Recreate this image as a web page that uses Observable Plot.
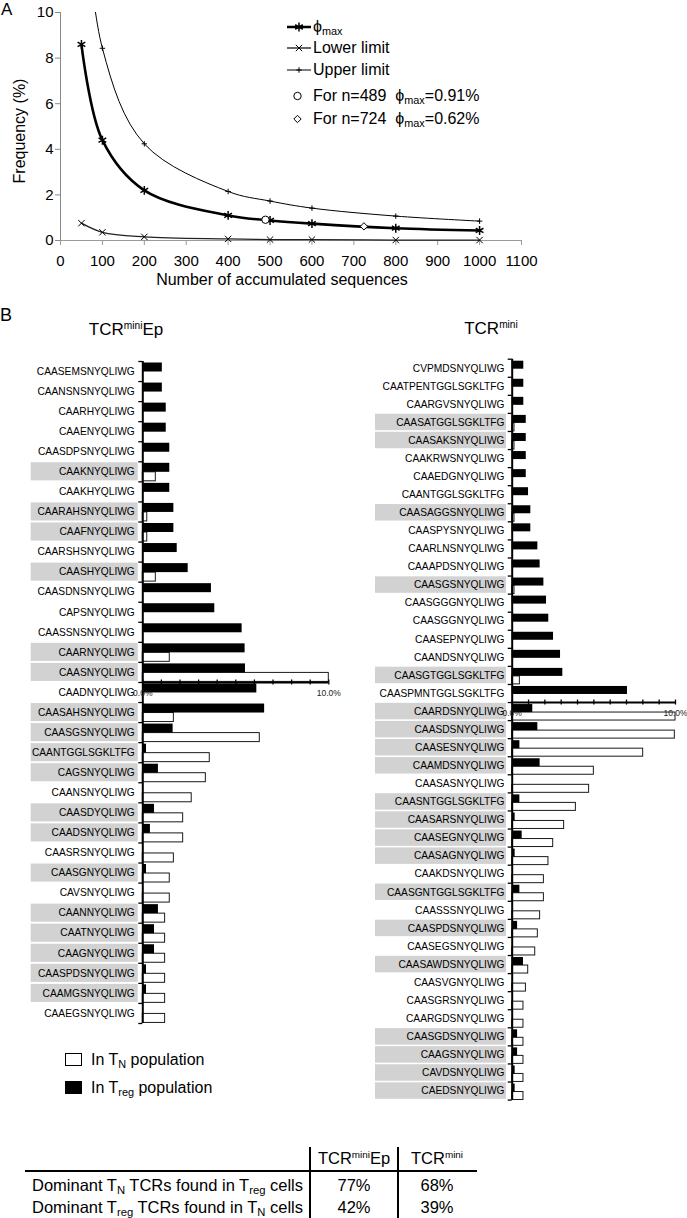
<!DOCTYPE html>
<html><head><meta charset="utf-8">
<script src="https://cdn.jsdelivr.net/npm/d3@7"></script>
<script src="https://cdn.jsdelivr.net/npm/@observablehq/plot@0.6"></script>
<style>
html,body{margin:0;padding:0;background:#fff}
#root{position:relative;width:687px;height:1218px;overflow:hidden;font-family:"Liberation Sans",Arial,Helvetica,sans-serif;color:#000}
.abs{position:absolute;white-space:nowrap}
.sub{font-size:0.68em;position:relative;top:0.28em;line-height:0}
.sup{font-size:0.6em;position:relative;top:-0.6em;line-height:0}
</style></head>
<body><div id="root"></div>
<script>
// ---------------- Panel A data ----------------
const sampleSizes = [50, 100, 200, 400, 500, 600, 800, 1000];
const phiMax      = [8.6, 4.4, 2.2, 1.1, 0.88, 0.74, 0.54, 0.44];
const lowerLimit  = [0.76, 0.36, 0.16, 0.07, 0.04, 0.04, 0.02, 0.02];
const upperLimit  = [16.9, 8.43, 4.24, 2.15, 1.73, 1.42, 1.07, 0.85];
const markedN      = [489, 724];
const markedPhi    = [0.91, 0.62];
const markedSymbol = ["circle", "diamond2"];
const xTicksA = [0, 100, 200, 300, 400, 500, 600, 700, 800, 900, 1000, 1100];
const yTicksA = [0, 2, 4, 6, 8, 10];
const legendLabelsA = [
  "ϕ<span class=sub>max</span>",
  "Lower limit",
  "Upper limit",
  "For n=489&nbsp;&nbsp;ϕ<span class=sub>max</span>=0.91%",
  "For n=724&nbsp;&nbsp;ϕ<span class=sub>max</span>=0.62%"
];

// ---------------- Panel B data (TCRminiEp) ----------------
const epNames = ["CAASEMSNYQLIWG","CAANSNSNYQLIWG","CAARHYQLIWG","CAAENYQLIWG","CAASDPSNYQLIWG",
  "CAAKNYQLIWG","CAAKHYQLIWG","CAARAHSNYQLIWG","CAAFNYQLIWG","CAARSHSNYQLIWG","CAASHYQLIWG",
  "CAASDNSNYQLIWG","CAPSNYQLIWG","CAASSNSNYQLIWG","CAARNYQLIWG","CAASNYQLIWG","CAADNYQLIWG",
  "CAASAHSNYQLIWG","CAASGSNYQLIWG","CAANTGGLSGKLTFG","CAGSNYQLIWG","CAANSNYQLIWG","CAASDYQLIWG",
  "CAADSNYQLIWG","CAASRSNYQLIWG","CAASGNYQLIWG","CAVSNYQLIWG","CAANNYQLIWG","CAATNYQLIWG",
  "CAAGNYQLIWG","CAASPDSNYQLIWG","CAAMGSNYQLIWG","CAAEGSNYQLIWG"];
const epTreg = [1.05,1.05,1.26,1.26,1.45,1.45,1.45,1.67,1.67,1.85,2.44,3.69,3.87,5.34,5.5,5.52,6.13,
  6.55,1.63,0.2,0.84,0,0.63,0.41,0,0.2,0,0.84,0.63,0.63,0.2,0.2,0];
const epTN = [0,0,0,0,0,0.7,0,0.24,0.24,0,0.7,0,0,0,1.45,11,0,1.67,6.29,3.6,3.39,2.63,2.17,2.17,1.67,
  1.45,1.45,1.2,1.2,1.2,1.2,1.2,1.2];
const epShaded = [0,0,0,0,0,1,0,1,1,0,1,0,0,0,1,1,0,1,1,1,1,0,1,1,0,1,0,1,1,1,1,1,0];
const epAxisBefore = "CAADNYQLIWG";

// ---------------- Panel B data (TCRmini) ----------------
const miniNames = ["CVPMDSNYQLIWG","CAATPENTGGLSGKLTFG","CAARGVSNYQLIWG","CAASATGGLSGKLTFG",
  "CAASAKSNYQLIWG","CAAKRWSNYQLIWG","CAAEDGNYQLIWG","CAANTGGLSGKLTFG","CAASAGGSNYQLIWG",
  "CAASPYSNYQLIWG","CAARLNSNYQLIWG","CAAAPDSNYQLIWG","CAASGSNYQLIWG","CAASGGGNYQLIWG",
  "CAASGGNYQLIWG","CAASEPNYQLIWG","CAANDSNYQLIWG","CAASGTGGLSGKLTFG","CAASPMNTGGLSGKLTFG",
  "CAARDSNYQLIWG","CAASDSNYQLIWG","CAASESNYQLIWG","CAAMDSNYQLIWG","CAASASNYQLIWG",
  "CAASNTGGLSGKLTFG","CAASARSNYQLIWG","CAASEGNYQLIWG","CAASAGNYQLIWG","CAAKDSNYQLIWG",
  "CAASGNTGGLSGKLTFG","CAASSSNYQLIWG","CAASPDSNYQLIWG","CAASEGSNYQLIWG","CAASAWDSNYQLIWG",
  "CAASVGNYQLIWG","CAASGRSNYQLIWG","CAARGDSNYQLIWG","CAASGDSNYQLIWG","CAAGSNYQLIWG",
  "CAVDSNYQLIWG","CAEDSNYQLIWG"];
const miniTreg = [0.71,0.71,0.71,0.86,0.86,0.86,0.86,1.0,1.14,1.14,1.57,1.71,1.94,2.1,2.24,2.53,2.96,
  3.1,7.06,1.26,1.57,0.47,1.71,0,0.47,0.18,0.61,0.18,0,0.47,0,0.33,0,0.69,0,0,0,0.33,0.33,0.18,0.18];
const miniTN = [0,0,0,0.14,0.14,0,0,0,0.14,0,0,0,0.14,0,0,0,0,0.47,0,11,9.96,8.02,5.0,4.71,3.9,3.18,
  2.51,2.22,1.94,1.94,1.71,1.57,1.41,0.98,0.84,0.69,0.69,0.69,0.69,0.69,0.69];
const miniShaded = [0,0,0,1,1,0,0,0,1,0,0,0,1,0,0,0,0,1,0,1,1,1,1,0,1,1,1,1,0,1,0,1,0,1,0,0,0,1,1,1,1];
const miniAxisBefore = "CAARDSNYQLIWG";

const xMinorTicksB = [0,1,2,3,4,5,6,7,8,9,10];
const xMajorTicksB = [0, 10];
const legendLabelsB = ["In T<span class=sub>N</span> population", "In T<span class=sub>reg</span> population"];
const legendFillsB = ["white", "black"];

// ---------------- Table data ----------------
const tableCols = ["TCR<span class=sup>mini</span>Ep", "TCR<span class=sup>mini</span>"];
const tableRows = ["Dominant T<span class=sub>N</span> TCRs found in T<span class=sub>reg</span> cells",
                   "Dominant T<span class=sub>reg</span> TCRs found in T<span class=sub>N</span> cells"];
const tableValues = [["77%", "68%"], ["42%", "39%"]];

// ---------------- helpers ----------------
const root = document.getElementById("root");
const FONT = '"Liberation Sans", Arial, sans-serif';
function put(node, left, top) {
  const d = document.createElement("div");
  d.className = "abs";
  d.style.left = left + "px"; d.style.top = top + "px";
  d.appendChild(node);
  root.appendChild(d);
  return d;
}
function html(str, css) {
  const d = document.createElement("div");
  d.className = "abs";
  d.innerHTML = str;
  Object.assign(d.style, css);
  root.appendChild(d);
  return d;
}
const plotStyle = {background: "transparent", overflow: "visible", fontFamily: FONT, fontSize: "15px", color: "black"};

// ---------------- Panel A ----------------
const rowsA = sampleSizes.map((n, i) => ({n, phi: phiMax[i], lo: lowerLimit[i], hi: upperLimit[i]}));
const markedA = markedN.map((n, i) => ({n, phi: markedPhi[i], symbol: markedSymbol[i]}));
const plotA = Plot.plot({
  width: 687, height: 300,
  marginLeft: 60, marginRight: 166, marginTop: 12, marginBottom: 60,
  style: plotStyle,
  x: {domain: [0, 1100]},
  y: {domain: [0, 10]},
  marks: [
    Plot.ruleY([0], {stroke: "#9a9a9a", strokeWidth: 1}),
    Plot.ruleX([0], {stroke: "#8a8a8a", strokeWidth: 1}),
    Plot.axisX({ticks: xTicksA, tickSize: 5, tickPadding: 10, stroke: "#9a9a9a", fill: "black",
      fontSize: 15, tickFormat: d => String(d), label: null}),
    Plot.axisY({ticks: yTicksA, tickSize: 5, tickPadding: 2, stroke: "#8a8a8a", fill: "black",
      fontSize: 15, tickFormat: d => String(d), label: null}),
    Plot.line(rowsA, {x: "n", y: "hi", curve: "catmull-rom", stroke: "black", strokeWidth: 1, clip: true}),
    Plot.line(rowsA, {x: "n", y: "lo", curve: "catmull-rom", stroke: "#222", strokeWidth: 1.3}),
    Plot.line(rowsA, {x: "n", y: "phi", curve: "catmull-rom", stroke: "black", strokeWidth: 2.6}),
    Plot.dot(rowsA, {x: "n", y: "hi", symbol: "plus", r: 1.9, stroke: "black", strokeWidth: 1, clip: true}),
    Plot.dot(rowsA, {x: "n", y: "lo", symbol: "times", r: 3, stroke: "black", strokeWidth: 1}),
    Plot.dot(rowsA, {x: "n", y: "phi", symbol: "asterisk", r: 4.2, stroke: "black", strokeWidth: 1.5}),
    ...markedA.map(d => Plot.dot([d], {x: "n", y: "phi", symbol: d.symbol, r: d.symbol === "circle" ? 3.7 : 3.3,
      fill: "white", stroke: "black", strokeWidth: 1}))
  ]
});
put(plotA, 0, 0);

html("A", {left: "1px", top: "1px", fontSize: "17px", lineHeight: "1"});
html("Frequency (%)", {left: "-80px", top: "122px", width: "200px", textAlign: "center", fontSize: "16px",
  lineHeight: "18px", transform: "rotate(-90deg)", transformOrigin: "100px 9px"});
html("Number of accumulated sequences", {left: "132px", top: "272px", width: "300px", textAlign: "center",
  fontSize: "16px", lineHeight: "1"});

// legend A
const legendRowsY = [27, 48, 70, 96, 119];
const legendSym = [
  {line: 2.5, sym: d3.symbolAsterisk, r: 4.2, sw: 1.5, fill: "none", cx: 13},
  {line: 1.2, sym: d3.symbolTimes, r: 3, sw: 1, fill: "none", cx: 13},
  {line: 1.0, sym: d3.symbolPlus, r: 1.9, sw: 1, fill: "none", cx: 13},
  {line: 0, sym: d3.symbolCircle, r: 3.7, sw: 1, fill: "white", cx: 11.5},
  {line: 0, sym: d3.symbolDiamond2, r: 3.3, sw: 1, fill: "white", cx: 11.5}
];
legendLabelsA.forEach((lab, i) => {
  const s = legendSym[i];
  const svg = d3.create("svg").attr("width", 26).attr("height", 16).style("position", "absolute")
    .style("left", "0px").style("top", "0px").style("overflow", "visible");
  if (s.line) svg.append("line").attr("x1", 1).attr("x2", 25).attr("y1", 8).attr("y2", 8)
    .attr("stroke", "black").attr("stroke-width", s.line);
  svg.append("path").attr("transform", `translate(${s.cx},8)`)
    .attr("d", d3.symbol(s.sym, Math.PI * s.r * s.r)())
    .attr("fill", s.fill).attr("stroke", "black").attr("stroke-width", s.sw);
  const row = html("", {left: "286px", top: (legendRowsY[i] - 8) + "px", width: "220px", height: "16px"});
  row.appendChild(svg.node());
  const t = document.createElement("span");
  t.innerHTML = lab;
  Object.assign(t.style, {position: "absolute", left: "27px", top: "0px", fontSize: "16px", lineHeight: "16px"});
  row.appendChild(t);
});

// ---------------- Panel B ----------------
function makeBars(c) {
  const N = c.names.length;
  const rows = c.names.map((name, i) => ({i, name, treg: c.treg[i], tn: c.tn[i], shaded: c.shaded[i]}));
  const bw = (c.frameBottom - c.frameTop) / N;
  const axisIdx = c.names.indexOf(c.axisBefore);
  const H = c.frameBottom - c.top + 12;
  const fl = c.frameLeft - c.left, fr = c.frameRight - c.left;
  const plot = Plot.plot({
    width: c.width, height: H,
    marginLeft: fl, marginRight: c.width - fr, marginTop: c.frameTop - c.top, marginBottom: 12,
    style: plotStyle,
    x: {domain: [0, 10], clamp: true, axis: null},
    y: {domain: [0, N], reverse: true},
    marks: [
      Plot.rect(rows.filter(d => d.shaded), {y1: "i", y2: d => d.i + 1, fill: "#d2d2d2",
        insetTop: c.boxInset, insetBottom: c.boxInset,
        insetLeft: c.boxLeft - c.frameLeft, insetRight: c.frameRight - c.boxRight}),
      Plot.axisY({ticks: d3.range(N).map(i => i + 0.5), tickSize: 0, tickPadding: c.labelPad,
        tickFormat: v => c.names[Math.floor(v)], fontSize: 10.2, fill: "black", label: null}),
      Plot.axisY({ticks: d3.range(N + 1), tickSize: 4, fill: "none", stroke: "black", strokeWidth: 1.3, label: null}),
      Plot.rect(rows.filter(d => d.tn > 0), {x1: 0, x2: "tn", y1: "i", y2: d => d.i + 1, fill: "white",
        stroke: "#1a1a1a", strokeWidth: 1, insetTop: c.midOff, insetBottom: bw - c.whiteEnd}),
      Plot.rect(rows.filter(d => d.treg > 0), {x1: 0, x2: "treg", y1: "i", y2: d => d.i + 1, fill: "black",
        insetTop: c.blackStart, insetBottom: bw - c.midOff}),
      Plot.ruleX([0], {stroke: "black", strokeWidth: 2}),
      Plot.ruleY([axisIdx], {x1: 0, x2: 10, stroke: "black", strokeWidth: 2}),
      Plot.ruleX(xMinorTicksB, {x: d => d, y1: axisIdx, y2: axisIdx, insetTop: -2.5, insetBottom: -2.5,
        stroke: "black", strokeWidth: 1.3}),
      Plot.text(xMajorTicksB, {x: d => d, y: axisIdx, dy: 10.5, text: d => d.toFixed(1) + "%", fontSize: 8.5,
        fill: "#222"})
    ]
  });
  put(plot, c.left, c.top);
}

makeBars({names: epNames, treg: epTreg, tn: epTN, shaded: epShaded, axisBefore: epAxisBefore,
  left: 0, top: 340, width: 345, frameLeft: 142.3, frameRight: 328.3, frameTop: 361, frameBottom: 1023,
  boxLeft: 30.7, boxRight: 137.7, labelPad: 8, blackStart: 1.5, midOff: 10.5, whiteEnd: 19.5, boxInset: 1});
makeBars({names: miniNames, treg: miniTreg, tn: miniTN, shaded: miniShaded, axisBefore: miniAxisBefore,
  left: 360, top: 340, width: 327, frameLeft: 511.7, frameRight: 675, frameTop: 358.7, frameBottom: 1099.6,
  boxLeft: 375, boxRight: 506, labelPad: 7.7, blackStart: 2, midOff: 10, whiteEnd: 18, boxInset: 0.8});

html("B", {left: "0px", top: "306px", fontSize: "18px", lineHeight: "1"});
html(tableCols[0], {left: "26px", top: "321px", width: "200px", textAlign: "center", fontSize: "17px", lineHeight: "1"});
html(tableCols[1], {left: "391px", top: "320px", width: "200px", textAlign: "center", fontSize: "17px", lineHeight: "1"});

// legend B
legendLabelsB.forEach((lab, i) => {
  const top = 1053 + i * 28;
  html("", {left: "65px", top: top + "px", width: "15px", height: "11px", border: "1px solid black",
    background: legendFillsB[i]});
  html(lab, {left: "91px", top: (top - 1) + "px", fontSize: "16px", lineHeight: "16px"});
});

// ---------------- Table ----------------
const colCenters = [354, 437];
const rowCenters = [1185, 1207];
html("", {left: "25px", top: "1170px", width: "452px", height: "2px", background: "black"});
html("", {left: "309px", top: "1147px", width: "1.5px", height: "71px", background: "black"});
html("", {left: "397px", top: "1147px", width: "1.5px", height: "71px", background: "black"});
tableCols.forEach((c, j) => html(c, {left: (colCenters[j] - 60) + "px", top: "1150px", width: "120px",
  textAlign: "center", fontSize: "16.5px", lineHeight: "1"}));
tableRows.forEach((r, i) => {
  html(r, {left: "0px", top: (rowCenters[i] - 8) + "px", width: "303px", textAlign: "right",
    fontSize: "16.5px", lineHeight: "1"});
  tableValues[i].forEach((v, j) => html(v, {left: (colCenters[j] - 40) + "px", top: (rowCenters[i] - 8) + "px",
    width: "80px", textAlign: "center", fontSize: "16.5px", lineHeight: "1"}));
});
</script></body></html>
